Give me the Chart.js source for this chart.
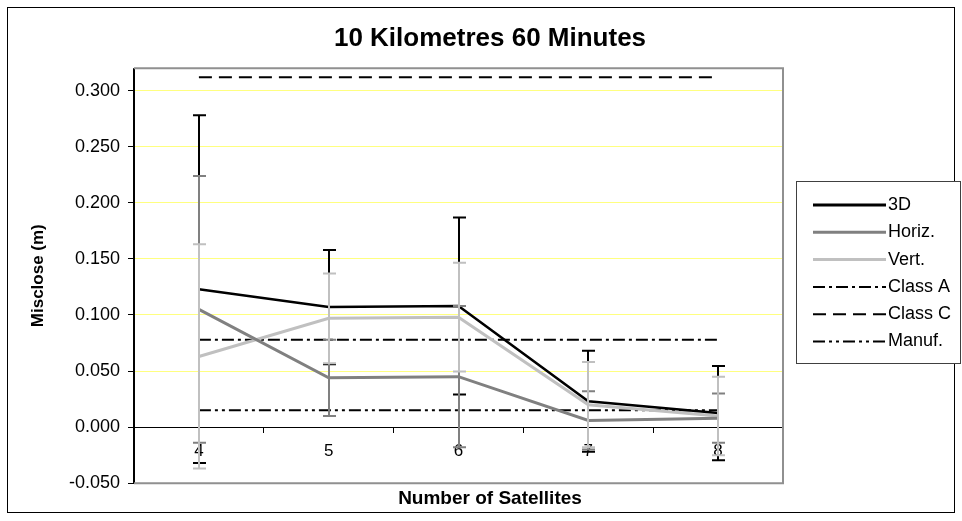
<!DOCTYPE html>
<html>
<head>
<meta charset="utf-8">
<style>
  html, body { margin: 0; padding: 0; background: #fff; }
  #wrap { width: 962px; height: 521px; }
</style>
</head>
<body>
<div id="wrap"><canvas id="miscloseChart"></canvas></div>
<script src="https://cdn.jsdelivr.net/npm/chart.js"></script>
<script>
// categories and tick values
const satellites = ['4', '5', '6', '7', '8'];
const yTicks = [-0.05, 0, 0.05, 0.1, 0.15, 0.2, 0.25, 0.3];

// mean misclose + error bar half-lengths (m)
const misclose3D = [0.123, 0.107, 0.108, 0.023, 0.0125];
const err3D = [0.155, 0.051, 0.079, 0.045, 0.042];
const miscloseHoriz = [0.105, 0.044, 0.045, 0.006, 0.008];
const errHoriz = [0.119, 0.034, 0.063, 0.026, 0.022];
const miscloseVert = [0.063, 0.097, 0.098, 0.020, 0.010];
const errVert = [0.100, 0.040, 0.0485, 0.038, 0.035];

// accuracy classes
const classA = [0.078, 0.078, 0.078, 0.078, 0.078];
const classC = [0.312, 0.312, 0.312, 0.312, 0.312];
const manuf = [0.015, 0.015, 0.015, 0.015, 0.015];

const FONT = '"Liberation Sans", Arial, sans-serif';

// white background + outer chart frame
const chartFrame = {
  id: 'chartFrame',
  beforeDraw(chart) {
    const ctx = chart.ctx;
    ctx.save();
    ctx.fillStyle = '#fff';
    ctx.fillRect(0, 0, chart.width, chart.height);
    ctx.strokeStyle = '#000';
    ctx.lineWidth = 1;
    ctx.strokeRect(7.5, 7.5, 947, 505);
    ctx.restore();
  },
  beforeDatasetsDraw(chart) {
    // gray plot border on top / right / bottom
    const {ctx, chartArea: a} = chart;
    ctx.save();
    ctx.strokeStyle = '#909090';
    ctx.lineWidth = 2;
    ctx.beginPath();
    ctx.moveTo(a.left, a.top);
    ctx.lineTo(a.right, a.top);
    ctx.lineTo(a.right, a.bottom);
    ctx.lineTo(a.left, a.bottom);
    ctx.stroke();
    ctx.strokeStyle = '#000';
    ctx.lineWidth = 1;
    ctx.beginPath();
    ctx.moveTo(Math.round(a.left) - 0.5, a.top);
    ctx.lineTo(Math.round(a.left) - 0.5, a.bottom);
    ctx.stroke();
    ctx.restore();
  }
};

// vertical error bars with caps
const errorBars = {
  id: 'errorBars',
  afterDatasetsDraw(chart) {
    const {ctx, scales: {x, y}} = chart;
    chart.data.datasets.forEach((ds) => {
      if (!ds.errors) return;
      ctx.save();
      ctx.strokeStyle = ds.borderColor;
      ctx.lineWidth = 2;
      ds.data.forEach((v, i) => {
        const px = Math.round(x.getPixelForValue(i));
        const top = y.getPixelForValue(v + ds.errors[i]);
        const bot = y.getPixelForValue(v - ds.errors[i]);
        ctx.beginPath();
        ctx.moveTo(px, top);
        ctx.lineTo(px, bot);
        ctx.moveTo(px - 6, top);
        ctx.lineTo(px + 7, top);
        ctx.moveTo(px - 6, bot);
        ctx.lineTo(px + 7, bot);
        ctx.stroke();
      });
      ctx.restore();
    });
  }
};

// boxed legend at the right, like the spreadsheet one
const boxLegend = {
  id: 'boxLegend',
  afterDraw(chart) {
    const {ctx, chartArea: a} = chart;
    const left = a.right + 13;
    const top = 181;
    const w = 164, h = 182;
    ctx.save();
    ctx.fillStyle = '#fff';
    ctx.fillRect(left, top, w, h);
    ctx.strokeStyle = '#404040';
    ctx.lineWidth = 1;
    ctx.strokeRect(left + 0.5, top + 0.5, w, h);
    ctx.font = '18px ' + FONT;
    ctx.textBaseline = 'middle';
    ctx.fillStyle = '#000';
    chart.data.datasets.forEach((ds, i) => {
      const yy = top + 24 + i * 27.3;
      ctx.strokeStyle = ds.borderColor;
      ctx.lineWidth = ds.legendWidth || ds.borderWidth;
      ctx.setLineDash(ds.borderDash || []);
      ctx.beginPath();
      ctx.moveTo(left + 17, yy);
      ctx.lineTo(left + 90, yy);
      ctx.stroke();
      ctx.setLineDash([]);
      ctx.fillText(ds.label, left + 92, yy);
    });
    ctx.restore();
  }
};

new Chart(document.getElementById('miscloseChart'), {
  type: 'line',
  data: {
    labels: satellites,
    datasets: [
      { label: '3D', data: misclose3D, errors: err3D, borderColor: '#000000', borderWidth: 2.5, legendWidth: 3 },
      { label: 'Horiz.', data: miscloseHoriz, errors: errHoriz, borderColor: '#808080', borderWidth: 3 },
      { label: 'Vert.', data: miscloseVert, errors: errVert, borderColor: '#c0c0c0', borderWidth: 3 },
      { label: 'Class A', data: classA, borderColor: '#000000', borderWidth: 2, borderDash: [12, 4, 3, 4] },
      { label: 'Class C', data: classC, borderColor: '#000000', borderWidth: 2, borderDash: [13, 7] },
      { label: 'Manuf.', data: manuf, borderColor: '#000000', borderWidth: 2, borderDash: [12, 4, 3, 4, 3, 4] }
    ]
  },
  options: {
    responsive: true,
    maintainAspectRatio: false,
    animation: false,
    events: [],
    layout: { padding: { left: 28, right: 10, top: 10, bottom: 8 } },
    elements: {
      point: { radius: 0 },
      line: { tension: 0, fill: false, borderCapStyle: 'butt' }
    },
    plugins: {
      legend: { display: false },
      tooltip: { enabled: false },
      title: {
        display: true,
        text: '10 Kilometres 60 Minutes',
        color: '#000',
        font: { family: FONT, size: 26, weight: 'bold' },
        padding: { top: 13, bottom: 14 }
      },
      subtitle: {
        display: true,
        position: 'bottom',
        text: 'Number of Satellites',
        color: '#000',
        font: { family: FONT, size: 19, weight: 'bold' },
        padding: { top: 4.5, bottom: 2.5 }
      }
    },
    scales: {
      x: {
        type: 'category',
        offset: true,
        position: { y: 0 },
        grid: { display: true, drawOnChartArea: false, offset: true, tickLength: 5, color: '#000' },
        border: { display: true, color: '#000', width: 1 },
        ticks: { color: '#000', font: { family: FONT, size: 17 }, padding: 9, maxRotation: 0 }
      },
      y: {
        min: -0.05,
        max: 0.32,
        afterBuildTicks: (scale) => { scale.ticks = yTicks.map(v => ({ value: v })); },
        afterFit: (scale) => { scale.width = 106; },
        title: {
          display: true,
          text: 'Misclose (m)',
          color: '#000',
          font: { family: FONT, size: 17, weight: 'bold' },
          padding: { top: 0, bottom: 0 }
        },
        grid: {
          color: (c) => {
            if (!c.tick) return '#ffff80';
            if (Math.abs(c.tick.value) < 1e-9) return '#000';
            if (c.tick.value < -0.049) return '#909090';
            return '#ffff80';
          },
          tickColor: '#000',
          tickLength: 6
        },
        border: { display: true, color: '#000', width: 1 },
        ticks: {
          color: '#000',
          font: { family: FONT, size: 18 },
          padding: 8,
          callback: (v) => Number(v).toFixed(3)
        }
      },
      // empty right-hand box that keeps room for the legend
      legendSpace: {
        type: 'linear',
        position: 'right',
        display: true,
        afterFit: (scale) => { scale.width = 169; },
        grid: { display: false },
        border: { display: false },
        ticks: { display: false }
      }
    }
  },
  plugins: [chartFrame, errorBars, boxLegend]
});
</script>
</body>
</html>
